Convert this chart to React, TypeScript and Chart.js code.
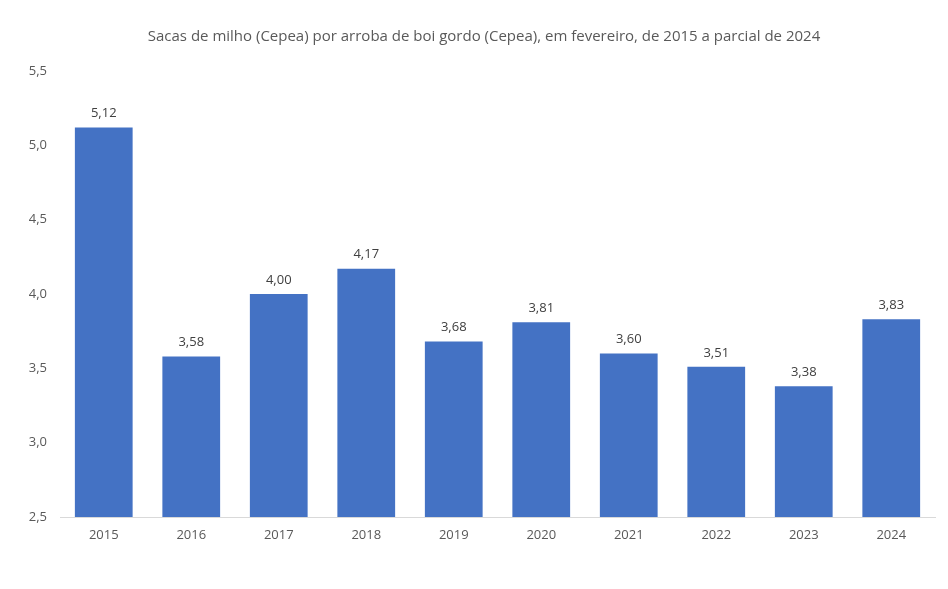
import React, { useEffect, useRef } from "react";
import { Chart, registerables } from "chart.js";

Chart.register(...registerables);

const TITLE = "Sacas de milho (Cepea) por arroba de boi gordo (Cepea), em fevereiro, de 2015 a parcial de 2024";
const years = ["2015", "2016", "2017", "2018", "2019", "2020", "2021", "2022", "2023", "2024"];
const values = [5.12, 3.58, 4.0, 4.17, 3.68, 3.81, 3.6, 3.51, 3.38, 3.83];
const yMin = 2.5;
const yMax = 5.5;
const yStep = 0.5;

const FONT = "'Open Sans', sans-serif";
const fmt = (v: number, d: number) => v.toFixed(d).replace(".", ",");

export default function App() {
  const ref = useRef<HTMLCanvasElement | null>(null);
  useEffect(() => {
    document.body.style.margin = "0";
    const ctx = ref.current!.getContext("2d")!;
    const titlePlugin = {
      id: "customTitle",
      afterDraw(chart: any) {
        const c = chart.ctx;
        c.save();
        c.font = `15px ${FONT}`;
        c.fillStyle = "#595959";
        c.textAlign = "center";
        c.textBaseline = "middle";
        c.fillText(TITLE, 484, 37);
        c.restore();
      },
    };
    const labelPlugin = {
      id: "valueLabels",
      afterDatasetsDraw(chart: any) {
        const c = chart.ctx;
        const meta = chart.getDatasetMeta(0);
        c.save();
        c.font = `13px ${FONT}`;
        c.fillStyle = "#404040";
        c.textAlign = "center";
        c.textBaseline = "middle";
        meta.data.forEach((bar: any, i: number) => {
          c.fillText(fmt(values[i], 2), bar.x, bar.y - 14);
        });
        c.restore();
      },
    };
    const chart = new Chart(ctx, {
      type: "bar",
      data: {
        labels: years,
        datasets: [
          {
            data: values,
            backgroundColor: "#4472C4",
            barPercentage: 0.66,
            categoryPercentage: 1,
          },
        ],
      },
      options: {
        animation: false,
        responsive: false,
        layout: { padding: { top: 71, right: 13, left: 0, bottom: 0 } },
        plugins: { legend: { display: false }, title: { display: false }, tooltip: { enabled: false } },
        scales: {
          x: {
            grid: { display: false, drawTicks: false },
            border: { display: true, color: "#D9D9D9", width: 1 },
            ticks: { color: "#595959", font: { family: FONT, size: 13 }, padding: 10 },
            afterFit: (s: any) => {
              s.height = 72;
            },
          },
          y: {
            min: yMin,
            max: yMax,
            grid: { display: false, drawTicks: false },
            border: { display: false },
            ticks: {
              stepSize: yStep,
              color: "#595959",
              font: { family: FONT, size: 13 },
              padding: 13,
              callback: (v: any) => fmt(Number(v), 1),
            },
            afterFit: (s: any) => {
              s.width = 60;
            },
          },
        },
      },
      plugins: [titlePlugin, labelPlugin],
    });
    return () => chart.destroy();
  }, []);
  return (
    <div style={{ width: 948, height: 589 }}>
      <canvas ref={ref} width={948} height={589} style={{ display: "block" }} />
    </div>
  );
}
